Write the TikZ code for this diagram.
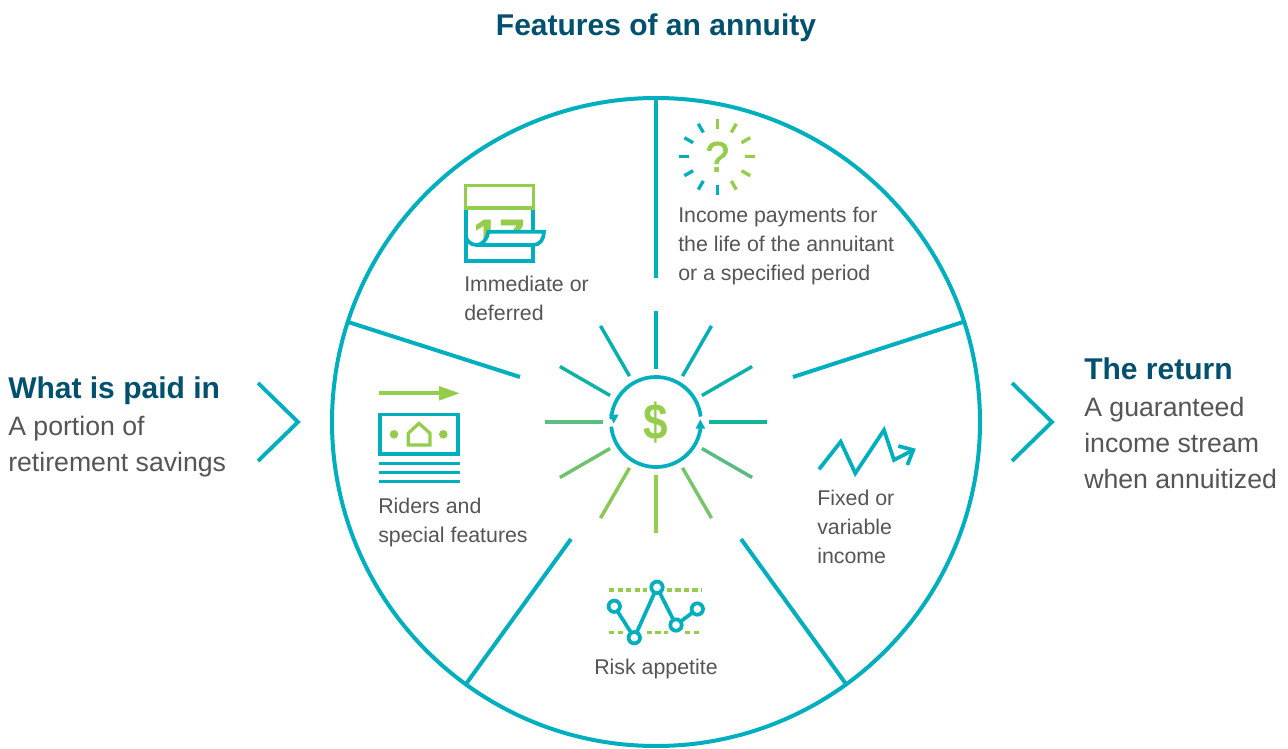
\documentclass[tikz,border=0pt]{standalone}
\usepackage{fontspec}
\usetikzlibrary{calc}
\setmainfont{Liberation Sans}
\definecolor{teal1}{HTML}{00AFBD}
\definecolor{green1}{HTML}{94CD4B}
\definecolor{head1}{HTML}{00506E}
\definecolor{body1}{HTML}{555555}
\tikzset{
  x=0.75pt,y=-0.75pt,
  rim/.style={draw=teal1,line width=3pt},
  iconteal/.style={draw=teal1,line width=2.8pt},
  icongreen/.style={draw=green1,line width=2.8pt},
  chevron/.style={draw=teal1,line width=2.9pt},
  heading/.style={inner sep=0pt,text=head1,font=\bfseries\fontsize{22.5pt}{27pt}\selectfont,anchor=base west},
  lead/.style={inner sep=0pt,text=body1,align=left,font=\fontsize{20pt}{27pt}\selectfont,anchor=north west},
  small/.style={inner sep=0pt,text=body1,align=left,font=\fontsize{16pt}{21.75pt}\selectfont,anchor=north west},
}
\begin{document}
\begin{tikzpicture}
\useasboundingbox (0,0) rectangle (1288,749);
\fill[white] (0,0) rectangle (1288,749);
\coordinate (c) at (656,422);
% big wheel
\node[draw=teal1,line width=3pt,circle,minimum size=486pt,inner sep=0pt] (wheel) at (c) {};
\coordinate (s1a) at (656,98);   \coordinate (s1b) at (656,278);
\coordinate (s2a) at (963,322);  \coordinate (s2b) at (793,377);
\coordinate (s3a) at (846,684);  \coordinate (s3b) at (741,539);
\coordinate (s4a) at (466,684);  \coordinate (s4b) at (571,539);
\coordinate (s5a) at (348,322);  \coordinate (s5b) at (520,377);
\foreach \i in {1,...,5} \draw[rim] (s\i a) -- (s\i b);
% sunburst
\foreach \a/\c in {-90/00AEBD,-60/02AFB5,-30/0AB2A8,0/12B598,30/58BC82,60/79C46B,90/94CD4B,120/88C855,150/6FC26D,180/5BBD82,-150/10B3A2,-120/05B0AF}{
  \definecolor{rayc}{HTML}{\c}
  \draw[draw=rayc,line width=2.6pt] ($(c)+(\a:53)$) -- ($(c)+(\a:111)$);
}
% ring with arrows
\draw[iconteal] (c) ++(-7:45) arc[start angle=-7,end angle=-176,radius=45];
\draw[iconteal] (c) ++(174:45) arc[start angle=174,end angle=8,radius=45];
\fill[teal1] (609,414.5) -- (618.6,414.5) -- (613.7,423.5) -- cycle;
\fill[teal1] (695.6,428.5) -- (705.2,428.5) -- (700.3,419.5) -- cycle;
\node[inner sep=0pt,text=green1,xscale=0.87,font=\bfseries\fontsize{38pt}{38pt}\selectfont] (dollar) at (656,423) {\$};
% question sunburst
\coordinate (q) at (717.3,156.7);
\foreach \a in {-90,-60,-30,0,30,60}
  \draw[draw=green1,line width=2.5pt] ($(q)+(\a:28)$) -- ($(q)+(\a:38)$);
\foreach \a in {90,120,150,180,210,240}
  \draw[draw=teal1,line width=2.5pt] ($(q)+(\a:28)$) -- ($(q)+(\a:38)$);
\node[inner sep=0pt,text=green1,font=\fontsize{32pt}{32pt}\selectfont\addfontfeature{FakeBold=1.5}] (qm) at (q) {?};
% calendar
\begin{scope}
\clip (464,216.7) -- (533,216.7) -- (533,231.7) -- (488.3,231.7) .. controls (487,240) and (482,245) .. (476.7,245) .. controls (470,245) and (465.7,240) .. (465.7,235) -- cycle;
\node[inner sep=0pt,text=green1,anchor=base,font=\bfseries\fontsize{35pt}{35pt}\selectfont\addfontfeature{FakeBold=1}] (cal17) at (499,252) {17};
\end{scope}
\draw[iconteal] (465.7,208) -- (465.7,261) -- (533.3,261) -- (533.3,245);
\draw[iconteal] (533.3,208) -- (533.3,231.7);
\draw[iconteal] (465.7,235) .. controls (465.7,240) and (470,245) .. (476.7,245) .. controls (482,245) and (487,240) .. (488.3,231.7) -- (544,231.7) .. controls (544,239) and (540,245) .. (533.3,245) -- (476.7,245);
\draw[icongreen] (465.5,185.5) rectangle (533.5,208);
% riders icon
\draw[draw=green1,line width=3pt] (379,393.3) -- (441,393.3);
\fill[green1] (439,386) -- (459.3,393.3) -- (439,400.6) -- cycle;
\draw[iconteal] (380,414.5) rectangle (458,454);
\fill[green1] (394,434.3) circle[radius=4.3];
\fill[green1] (443.3,434.3) circle[radius=4.3];
\draw[draw=green1,line width=2.4pt] (408.3,445) -- (408.3,433.3) -- (419,423.3) -- (430,433.3) -- (430,445) -- cycle;
\foreach \y in {463.3,472.3,481.7}
  \draw[draw=teal1,line width=2.5pt] (378.7,\y) -- (459.5,\y);
% risk icon
\foreach \xa/\xb/\y in {609/646.7/590,666.7/701.7/590,609/625/632.3,646.7/668.3/632.3,685/701.7/632.3}
  \draw[draw=green1,line width=2.6pt,dash pattern=on 4pt off 2.4pt] (\xa,\y) -- (\xb,\y);
\coordinate (r1) at (614.3,606.3);
\coordinate (r2) at (634.3,637.7);
\coordinate (r3) at (657,587.3);
\coordinate (r4) at (676,625);
\coordinate (r5) at (697.3,609);
\draw[iconteal] (r1) -- (r2) -- (r3) -- (r4) -- (r5);
\foreach \i in {1,...,5}
  \draw[iconteal,fill=white] (r\i) circle[radius=5.7];
% zigzag
\draw[iconteal,miter limit=10] (819,469.3) -- (840.7,441.7) -- (855.3,473.3) -- (884,430) -- (894,460) -- (913.3,450);
\draw[iconteal,miter limit=10] (898.3,446) -- (913.3,450) -- (907.3,465);
% chevrons
\draw[chevron] (258,383) -- (298,422) -- (258,461);
\draw[chevron] (1012,383) -- (1052,422) -- (1012,461);
% texts
\node[heading,anchor=base] (title) at (656,36) {Features of an annuity};
\node[heading] (paidh) at (8,398) {What is paid in};
\node[lead] (paidb) at (8,416) {A portion of\\retirement savings};
\node[heading] (reth) at (1084,379) {The return};
\node[lead] (retb) at (1084,397) {A guaranteed\\income stream\\when annuitized};
\node[small] (t1) at (678,207) {Income payments for\\the life of the annuitant\\or a specified period};
\node[small] (t2) at (464,276) {Immediate or\\deferred};
\node[small] (t3) at (378,498) {Riders and\\special features};
\node[small] (t4) at (817,490) {Fixed or\\variable\\income};
\node[small,anchor=base] (t5) at (656,674) {Risk appetite};
\end{tikzpicture}
\end{document}
